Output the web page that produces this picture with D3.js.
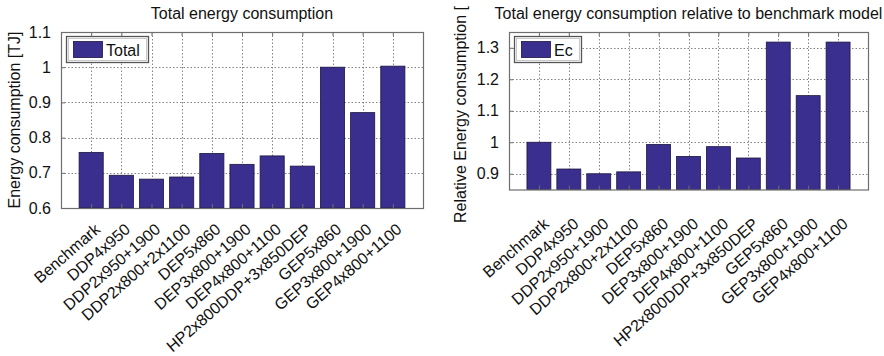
<!DOCTYPE html>
<html>
<head>
<meta charset="utf-8">
<script src="https://cdn.jsdelivr.net/npm/d3@7"></script>
<style>
  html, body { margin: 0; padding: 0; background: #fff; }
  svg { display: block; }
  text { font-family: "Liberation Sans", Arial, Helvetica, sans-serif; fill: #111; }
</style>
</head>
<body>
<svg id="chart" width="884" height="356"></svg>
<script>
// Scenario names shared by both panels
const categories = [
  "Benchmark", "DDP4x950", "DDP2x950+1900", "DDP2x800+2x1100", "DEP5x860",
  "DEP3x800+1900", "DEP4x800+1100", "HP2x800DDP+3x850DEP", "GEP5x860",
  "GEP3x800+1900", "GEP4x800+1100"
];

// Total energy consumption per scenario [TJ]
const totalEnergy = [0.758, 0.693, 0.682, 0.688, 0.755, 0.724, 0.748, 0.719, 1.000, 0.871, 1.003];

// Energy consumption relative to the benchmark model
const relativeEnergy = [1.000, 0.915, 0.900, 0.906, 0.993, 0.955, 0.986, 0.950, 1.318, 1.148, 1.318];

// Y tick values of each panel
const totalTicks = [0.6, 0.7, 0.8, 0.9, 1.0, 1.1];
const relativeTicks = [0.9, 1.0, 1.1, 1.2, 1.3];

const BAR_FILL = "#3a2e8e";
const BAR_EDGE = "#1c1640";
const FRAME = "#6e6e6e";
const GRID = "#666";
const FONT = 16;

const svg = d3.select("#chart");

function panel(opts) {
  const g = svg.append("g");
  const x = d3.scaleLinear().domain([0, categories.length + 1]).range([opts.left, opts.right]);
  const y = d3.scaleLinear().domain(opts.yDomain).range([opts.bottom, opts.top]);
  const half = 0.4;

  // plot background
  g.append("rect")
    .attr("x", opts.left).attr("y", opts.top)
    .attr("width", opts.right - opts.left).attr("height", opts.bottom - opts.top)
    .attr("fill", "#fff");

  // dotted grid lines
  const grid = g.append("g").attr("stroke", GRID).attr("stroke-width", 1)
    .attr("stroke-dasharray", "1.5,2").attr("opacity", 0.8);
  grid.selectAll("line.v").data(categories).join("line")
    .attr("x1", (d, i) => Math.round(x(i + 1)) + 0.5).attr("x2", (d, i) => Math.round(x(i + 1)) + 0.5)
    .attr("y1", opts.top).attr("y2", opts.bottom);
  grid.selectAll("line.h").data(opts.ticks).join("line")
    .attr("x1", opts.left).attr("x2", opts.right)
    .attr("y1", d => Math.round(y(d)) + 0.5).attr("y2", d => Math.round(y(d)) + 0.5);

  // bars
  g.append("g").selectAll("rect").data(opts.values).join("rect")
    .attr("x", (d, i) => x(i + 1 - half))
    .attr("width", (d, i) => x(i + 1 + half) - x(i + 1 - half))
    .attr("y", d => y(d))
    .attr("height", d => opts.bottom - y(d))
    .attr("fill", BAR_FILL)
    .attr("stroke", BAR_EDGE).attr("stroke-width", 0.8);

  // axes frame with inward ticks
  const yAxis = d3.axisLeft(y).tickValues(opts.ticks)
    .tickFormat(d => d3.format("~g")(d)).tickSize(-4).tickPadding(10);
  const ya = g.append("g").attr("transform", `translate(${opts.left},0)`).call(yAxis);
  ya.select(".domain").remove();
  ya.selectAll(".tick line").attr("stroke", FRAME);
  ya.selectAll(".tick text").attr("font-size", FONT).attr("fill", "#111")
    .attr("font-family", "'Liberation Sans', Arial, sans-serif");

  const xAxis = d3.axisBottom(x).tickValues(d3.range(1, categories.length + 1))
    .tickFormat("").tickSize(-4);
  const xa = g.append("g").attr("transform", `translate(0,${opts.bottom})`).call(xAxis);
  xa.select(".domain").remove();
  xa.selectAll(".tick line").attr("stroke", FRAME);
  const xt = g.append("g").attr("transform", `translate(0,${opts.top})`)
    .call(d3.axisTop(x).tickValues(d3.range(1, categories.length + 1)).tickFormat("").tickSize(-4));
  xt.select(".domain").remove();
  xt.selectAll(".tick line").attr("stroke", FRAME);

  g.append("rect")
    .attr("x", opts.left + 0.5).attr("y", opts.top + 0.5)
    .attr("width", opts.right - opts.left).attr("height", opts.bottom - opts.top)
    .attr("fill", "none").attr("stroke", FRAME).attr("stroke-width", 1.2);

  // rotated category labels
  g.append("g").selectAll("text").data(categories).join("text")
    .attr("transform", (d, i) => `translate(${x(i + 1) + opts.labelDx},${opts.bottom + opts.labelDy}) rotate(-41)`)
    .attr("text-anchor", "end")
    .attr("font-size", FONT)
    .text(d => d);

  // title
  g.append("text")
    .attr("x", (opts.left + opts.right) / 2).attr("y", opts.titleY)
    .attr("text-anchor", "middle").attr("font-size", FONT)
    .text(opts.title);

  // y label
  g.append("text")
    .attr("transform", `translate(${opts.yLabelX},${opts.yLabelY}) rotate(-90)`)
    .attr("text-anchor", opts.yLabelAnchor).attr("font-size", opts.yLabelSize)
    .text(opts.yLabel);

  // legend
  const lg = g.append("g").attr("transform", `translate(${opts.left + opts.legend.dx},${opts.top + 4})`);
  lg.append("rect")
    .attr("x", 0.5).attr("y", 0.5).attr("width", opts.legend.w).attr("height", 26)
    .attr("fill", "#fff").attr("stroke", "#555").attr("stroke-width", 1.3);
  lg.append("rect")
    .attr("x", 2.5).attr("y", 2.5).attr("width", opts.legend.w - 4).attr("height", 22)
    .attr("fill", "none").attr("stroke", "#bbb").attr("stroke-width", 0.8);
  lg.append("rect")
    .attr("x", 7.5).attr("y", 5.5).attr("width", 29).attr("height", 16)
    .attr("fill", BAR_FILL).attr("stroke", BAR_EDGE).attr("stroke-width", 0.8);
  lg.append("text")
    .attr("x", 40).attr("y", 20).attr("font-size", FONT)
    .text(opts.legend.label);
}

panel({
  left: 61, right: 423, top: 32, bottom: 208,
  yDomain: [0.6, 1.1], ticks: totalTicks, values: totalEnergy,
  title: "Total energy consumption", titleY: 19,
  yLabel: "Energy consumption [TJ]", yLabelX: 20, yLabelY: 120, yLabelAnchor: "middle", yLabelSize: 16,
  labelDx: 10, labelDy: 23,
  legend: { dx: 5, w: 82, label: "Total" }
});

// the long axis title runs up to the top edge of the figure; only its visible part is set
panel({
  left: 509, right: 868, top: 32, bottom: 189.5,
  yDomain: [0.85, 1.35], ticks: relativeTicks, values: relativeEnergy,
  title: "Total energy consumption relative to benchmark model", titleY: 19,
  yLabel: "Relative Energy consumption [", yLabelX: 466, yLabelY: 223, yLabelAnchor: "start", yLabelSize: 16,
  labelDx: 11, labelDy: 36,
  legend: { dx: 5, w: 67, label: "Ec" }
});
</script>
</body>
</html>
